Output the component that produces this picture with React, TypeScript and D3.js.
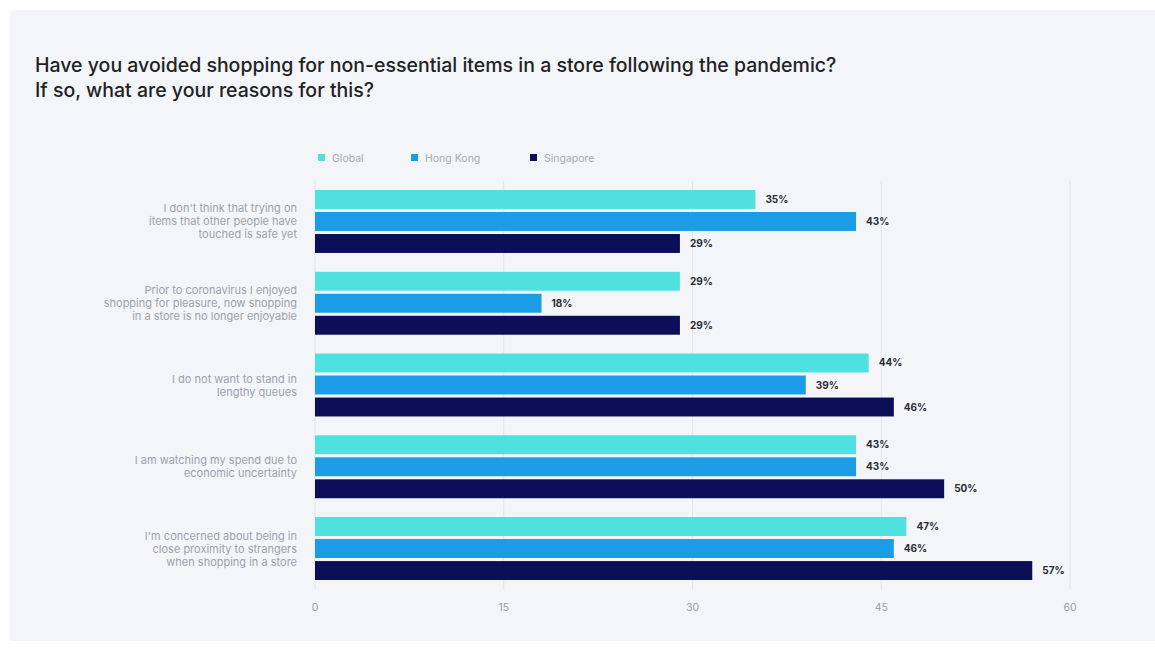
import React from "react";
import * as d3 from "d3";

const categories: string[][] = [
  ["I don't think that trying on", "items that other people have", "touched is safe yet"],
  ["Prior to coronavirus I enjoyed", "shopping for pleasure, now shopping", "in a store is no longer enjoyable"],
  ["I do not want to stand in", "lengthy queues"],
  ["I am watching my spend due to", "economic uncertainty"],
  ["I'm concerned about being in", "close proximity to strangers", "when shopping in a store"],
];
const seriesNames = ["Global", "Hong Kong", "Singapore"];
const globalValues = [35, 29, 44, 43, 47];
const hongKongValues = [43, 18, 39, 43, 46];
const singaporeValues = [29, 29, 46, 50, 57];
const xTicks = [0, 15, 30, 45, 60];
const colors = ["#4fe0e0", "#1a9de6", "#0b0f57"];

export default function App() {
  const W = 1155, H = 651;
  const x = d3.scaleLinear().domain([0, 60]).range([315, 1070]);
  const idx = categories.map((_, i) => String(i));
  const y0 = d3.scaleBand().domain(idx).range([190, 580]).paddingInner(0.23).paddingOuter(0);
  const y1 = d3.scaleBand().domain(seriesNames).range([0, y0.bandwidth()]).paddingInner(0.14);
  const series = [globalValues, hongKongValues, singaporeValues];
  const legendX = [318, 411, 530];

  return (
    <svg width={W} height={H} style={{ position: "absolute", left: 0, top: 0 }} fontFamily="Inter, 'Noto Sans', sans-serif">
      <rect x={0} y={0} width={W} height={H} fill="#ffffff" />
      <rect x={10} y={10} width={W - 10} height={631} fill="#f4f5f9" />
      <text x={35} y={72} fontSize={19.5} fontWeight={500} fill="#222">
        Have you avoided shopping for non-essential items in a store following the pandemic?
      </text>
      <text x={35} y={97} fontSize={19.5} fontWeight={500} fill="#222">
        If so, what are your reasons for this?
      </text>
      {seriesNames.map((s, i) => (
        <g key={s}>
          <rect x={legendX[i]} y={154} width={7} height={7} fill={colors[i]} />
          <text x={legendX[i] + 14} y={161.5} fontSize={10.5} fill="#a8abb5">{s}</text>
        </g>
      ))}
      {xTicks.map((t) => (
        <g key={t}>
          <line x1={x(t)} x2={x(t)} y1={181} y2={590} stroke="#e3e5ec" strokeWidth={1} />
          <text x={x(t)} y={611} fontSize={10.5} fill="#9a9ca5" textAnchor="middle">{t}</text>
        </g>
      ))}
      {categories.map((lines, ci) => {
        const top = y0(String(ci))!;
        const cy = top + y0.bandwidth() / 2;
        const lh = 13;
        const start = cy - ((lines.length - 1) * lh) / 2 + 4;
        return (
          <g key={ci}>
            {lines.map((l, li) => (
              <text key={li} x={297} y={start + li * lh} fontSize={11} fill="#9ea1aa" textAnchor="end">{l}</text>
            ))}
            {series.map((vals, si) => {
              const by = top + y1(seriesNames[si])!;
              return (
                <g key={si}>
                  <rect x={x(0)} y={by} width={x(vals[ci]) - x(0)} height={y1.bandwidth()} fill={colors[si]} />
                  <text x={x(vals[ci]) + 10} y={by + y1.bandwidth() / 2 + 3.5} fontSize={10} fontWeight={700} fill="#2a2c35">
                    {vals[ci]}%
                  </text>
                </g>
              );
            })}
          </g>
        );
      })}
    </svg>
  );
}
